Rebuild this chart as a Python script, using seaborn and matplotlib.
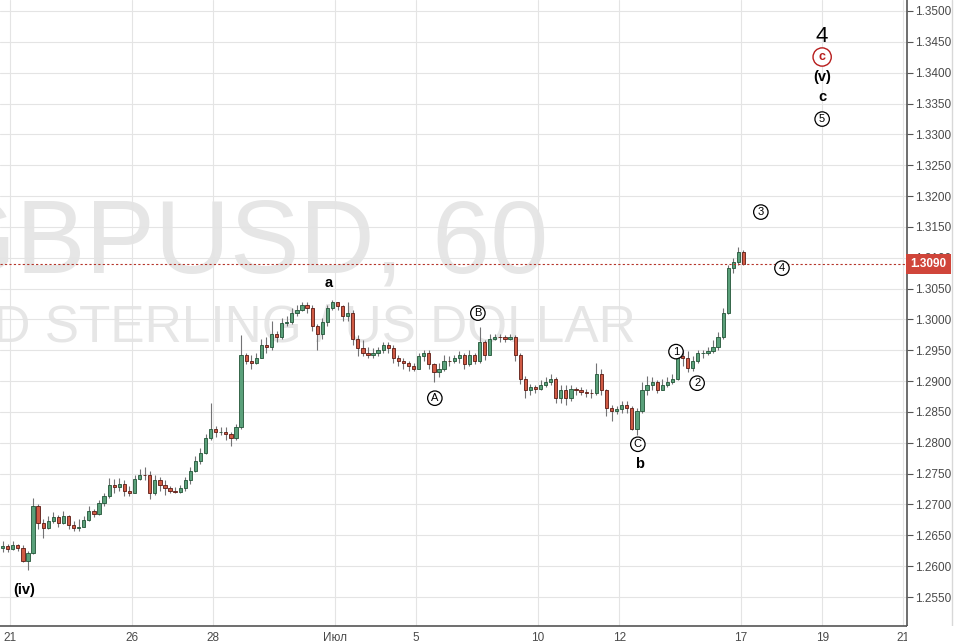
import numpy as np
import pandas as pd
import matplotlib
matplotlib.use('Agg')
import matplotlib.pyplot as plt
import matplotlib.transforms as mtransforms
from matplotlib.lines import Line2D
from matplotlib.patches import Rectangle
import seaborn as sns

# GBPUSD, 3h candles; x = trading days counted from 21 Jun
first_open = 1.2630
closes = [1.2633, 1.2628, 1.2635, 1.2630, 1.2609, 1.2622, 1.2698, 1.2670, 1.2662, 1.2674,
          1.2679, 1.2670, 1.2682, 1.2667, 1.2662, 1.2664, 1.2675, 1.2690, 1.2685, 1.2703,
          1.2713, 1.2732, 1.2729, 1.2734, 1.2722, 1.2719, 1.2742, 1.2748, 1.2747, 1.2719,
          1.2740, 1.2732, 1.2726, 1.2722, 1.2721, 1.2726, 1.2739, 1.2755, 1.2771, 1.2784,
          1.2808, 1.2823, 1.2817, 1.2818, 1.2815, 1.2807, 1.2825, 1.2942, 1.2933, 1.2929,
          1.2938, 1.2958, 1.2955, 1.2976, 1.2972, 1.2994, 1.2995, 1.3010, 1.3015, 1.3024,
          1.3018, 1.2990, 1.2977, 1.2995, 1.3018, 1.3028, 1.3021, 1.3005, 1.3011, 1.2969,
          1.2953, 1.2946, 1.2943, 1.2946, 1.2950, 1.2958, 1.2953, 1.2937, 1.2933, 1.2930,
          1.2924, 1.2920, 1.2940, 1.2946, 1.2927, 1.2914, 1.2920, 1.2933, 1.2932, 1.2937,
          1.2942, 1.2927, 1.2943, 1.2932, 1.2963, 1.2943, 1.2969, 1.2972, 1.2971, 1.2968,
          1.2972, 1.2942, 1.2904, 1.2885, 1.2890, 1.2888, 1.2894, 1.2899, 1.2904, 1.2872,
          1.2885, 1.2872, 1.2888, 1.2885, 1.2883, 1.2881, 1.2880, 1.2912, 1.2885, 1.2856,
          1.2851, 1.2854, 1.2862, 1.2856, 1.2823, 1.2852, 1.2885, 1.2893, 1.2898, 1.2886,
          1.2894, 1.2899, 1.2904, 1.2940, 1.2937, 1.2922, 1.2933, 1.2945, 1.2945, 1.2948,
          1.2955, 1.2972, 1.3011, 1.3083, 1.3093, 1.3109, 1.3090]
highs = [1.2640, 1.2636, 1.2641, 1.2636, 1.2635, 1.2625, 1.2711, 1.2701, 1.2677, 1.2682,
         1.2687, 1.2683, 1.2690, 1.2683, 1.2674, 1.2677, 1.2682, 1.2698, 1.2693, 1.2708,
         1.2718, 1.2743, 1.2742, 1.2743, 1.2739, 1.2730, 1.2748, 1.2758, 1.2760, 1.2755,
         1.2748, 1.2745, 1.2739, 1.2730, 1.2729, 1.2732, 1.2745, 1.2761, 1.2779, 1.2792,
         1.2815, 1.2864, 1.2828, 1.2825, 1.2826, 1.2818, 1.2830, 1.2974, 1.2946, 1.2942,
         1.2946, 1.2969, 1.2972, 1.2998, 1.2982, 1.3002, 1.3005, 1.3018, 1.3024, 1.3029,
         1.3028, 1.3023, 1.2992, 1.3002, 1.3023, 1.3031, 1.3029, 1.3023, 1.3028, 1.3015,
         1.2974, 1.2966, 1.2955, 1.2953, 1.2956, 1.2963, 1.2963, 1.2958, 1.2942, 1.2938,
         1.2933, 1.2930, 1.2946, 1.2951, 1.2950, 1.2930, 1.2929, 1.2942, 1.2940, 1.2942,
         1.2948, 1.2945, 1.2950, 1.2946, 1.2987, 1.2966, 1.2976, 1.2977, 1.2977, 1.2974,
         1.2977, 1.2974, 1.2946, 1.2909, 1.2896, 1.2894, 1.2901, 1.2906, 1.2912, 1.2907,
         1.2893, 1.2893, 1.2894, 1.2891, 1.2890, 1.2888, 1.2888, 1.2930, 1.2920, 1.2888,
         1.2862, 1.2860, 1.2868, 1.2868, 1.2860, 1.2856, 1.2898, 1.2909, 1.2907, 1.2901,
         1.2904, 1.2906, 1.2911, 1.2953, 1.2951, 1.2948, 1.2940, 1.2951, 1.2951, 1.2955,
         1.2966, 1.2979, 1.3018, 1.3089, 1.3099, 1.3117, 1.3112]
lows = [1.2623, 1.2623, 1.2627, 1.2625, 1.2606, 1.2593, 1.2620, 1.2661, 1.2646, 1.2661,
        1.2670, 1.2664, 1.2669, 1.2661, 1.2657, 1.2657, 1.2664, 1.2674, 1.2679, 1.2683,
        1.2698, 1.2711, 1.2719, 1.2722, 1.2714, 1.2714, 1.2719, 1.2740, 1.2739, 1.2709,
        1.2716, 1.2722, 1.2716, 1.2718, 1.2718, 1.2719, 1.2722, 1.2734, 1.2752, 1.2766,
        1.2782, 1.2804, 1.2810, 1.2812, 1.2804, 1.2795, 1.2804, 1.2823, 1.2927, 1.2920,
        1.2927, 1.2937, 1.2946, 1.2950, 1.2964, 1.2969, 1.2989, 1.2992, 1.3005, 1.3013,
        1.3011, 1.2982, 1.2950, 1.2969, 1.2990, 1.3015, 1.3016, 1.2998, 1.2998, 1.2958,
        1.2940, 1.2940, 1.2938, 1.2937, 1.2940, 1.2946, 1.2945, 1.2930, 1.2924, 1.2920,
        1.2917, 1.2916, 1.2919, 1.2933, 1.2920, 1.2898, 1.2907, 1.2916, 1.2925, 1.2930,
        1.2930, 1.2920, 1.2924, 1.2927, 1.2930, 1.2935, 1.2942, 1.2966, 1.2964, 1.2963,
        1.2966, 1.2933, 1.2896, 1.2872, 1.2877, 1.2881, 1.2885, 1.2891, 1.2894, 1.2864,
        1.2865, 1.2862, 1.2868, 1.2878, 1.2877, 1.2875, 1.2873, 1.2877, 1.2877, 1.2844,
        1.2836, 1.2846, 1.2849, 1.2849, 1.2820, 1.2813, 1.2849, 1.2877, 1.2885, 1.2880,
        1.2885, 1.2891, 1.2896, 1.2901, 1.2925, 1.2914, 1.2916, 1.2930, 1.2938, 1.2942,
        1.2946, 1.2951, 1.2969, 1.3008, 1.3076, 1.3088, 1.3088]
bar_start = -0.1875
bar_step = 0.125

day_ticks = [0, 3, 5, 8, 10, 13, 15, 18, 20, 22]
day_labels = ['21', '26', '28', 'Июл', '5', '10', '12', '17', '19', '21']
price_ticks = [1.2550, 1.2600, 1.2650, 1.2700, 1.2750, 1.2800, 1.2850, 1.2900, 1.2950, 1.3000,
               1.3050, 1.3100, 1.3150, 1.3200, 1.3250, 1.3300, 1.3350, 1.3400, 1.3450, 1.3500]
last_price = 1.3090

# wave labels
plain_labels = ['(iv)', 'a', 'b', '(v)', 'c']
plain_days = [0.34, 7.85, 15.51, 20.0, 20.0]
plain_prices = [1.2561, 1.30588, 1.27652, 1.33929, 1.33605]
circ_labels = ['A', 'B', 'C', '1', '2', '3', '4', '5']
circ_days = [10.46, 11.52, 15.46, 16.40, 16.92, 18.49, 19.01, 20.0]
circ_prices = [1.28723, 1.30102, 1.27976, 1.29478, 1.28966, 1.31740, 1.30831, 1.33248]

df = pd.DataFrame({'close': closes, 'high': highs, 'low': lows})
df['open'] = [first_open] + closes[:-1]
df['day'] = bar_start + bar_step * np.arange(len(df))
df['high'] = df[['high', 'open', 'close']].max(axis=1)
df['low'] = df[['low', 'open', 'close']].min(axis=1)
df['up'] = df['close'] >= df['open']

sns.set_style('white')
plt.rcParams['font.family'] = ['Liberation Sans', 'DejaVu Sans']

fig = plt.figure(figsize=(9.58, 6.44), dpi=100)
ax = fig.add_axes([0, 18 / 644, 907 / 958, 626 / 644])

ax.set_xlim(-0.251, 22.09)
ax.set_ylim(1.2503, 1.35178)

# watermark
ax.text(548 / 907, 1 - 272 / 626, 'GBPUSD, 60', transform=ax.transAxes, ha='right',
        va='baseline', fontsize=75, color='#e6e6e6', zorder=0)
ax.text(636 / 907, 1 - 342 / 626, 'POUND STERLING / US DOLLAR', transform=ax.transAxes,
        ha='right', va='baseline', fontsize=37, color='#e6e6e6', zorder=0)

# candles
up_fc, up_ec = '#5aa07a', '#225437'
dn_fc, dn_ec = '#d05a44', '#5b1a13'
ax.vlines(df['day'], df['low'], df['high'], color='#737375', lw=0.8, zorder=2)
body = (df['close'] - df['open']).abs().clip(lower=0.00005)
bottom = df[['open', 'close']].min(axis=1)
ax.bar(df['day'], body, bottom=bottom, width=0.08,
       color=np.where(df['up'], up_fc, dn_fc),
       edgecolor=np.where(df['up'], up_ec, dn_ec), linewidth=0.6, zorder=3)

# last price line
ax.axhline(last_price, color='#b5352a', lw=0.8, ls=(0, (2, 2)), zorder=4)

# grid / axes
ax.set_xticks(day_ticks)
ax.set_xticklabels(day_labels)
ax.yaxis.tick_right()
ax.set_yticks(price_ticks)
ax.set_yticklabels([f'{v:.4f}' for v in price_ticks])
ax.grid(True, color='#e4e4e4', lw=0.8, zorder=0)
ax.set_axisbelow(True)
for s in ['left', 'top']:
    ax.spines[s].set_visible(False)
for s in ['right', 'bottom']:
    ax.spines[s].set_color('#555555')
    ax.spines[s].set_linewidth(1.2)
ax.tick_params(axis='y', right=True, left=False, length=4, width=0.8, color='#555555',
               labelsize=8.5, labelcolor='#4a4a4a', pad=2)
ax.tick_params(axis='x', bottom=False, length=0, labelsize=8.5, labelcolor='#4a4a4a', pad=4)

# price label
trans = mtransforms.blended_transform_factory(ax.transAxes, ax.transData)
ax.text(1.004, last_price, '1.3090', transform=trans, ha='left', va='center', fontsize=8.5,
        color='white', fontweight='bold', clip_on=False, zorder=10,
        bbox=dict(boxstyle='square,pad=0.35', fc='#d0453a', ec='none'))

# wave annotations
for lab, d, p in zip(plain_labels, plain_days, plain_prices):
    ax.text(d, p, lab, ha='center', va='center', fontsize=10.5, fontweight='bold',
            color='black', zorder=6)
for lab, d, p in zip(circ_labels, circ_days, circ_prices):
    ax.text(d, p, lab, ha='center', va='center', fontsize=8, color='black', zorder=6,
            bbox=dict(boxstyle='circle,pad=0.2', fc='white', ec='black', lw=0.9))
ax.text(20.0, 1.34594, '4', ha='center', va='center', fontsize=16, color='black', zorder=6)
ax.text(20.0, 1.34254, 'c', ha='center', va='center', fontsize=9, fontweight='bold',
        color='#b71c1c', zorder=6,
        bbox=dict(boxstyle='circle,pad=0.25', fc='white', ec='#b71c1c', lw=1.0))

# price scale panel edge, hides the cut "21"
fig.patches.append(Rectangle((907 / 958, 0), 51 / 958, 18 / 644, transform=fig.transFigure,
                             fc='white', ec='none', zorder=5))
fig.lines.append(Line2D([952 / 958, 952 / 958], [0, 1], transform=fig.transFigure,
                        color='#d8d8d8', lw=1))

fig.savefig('out.png', dpi=100)
